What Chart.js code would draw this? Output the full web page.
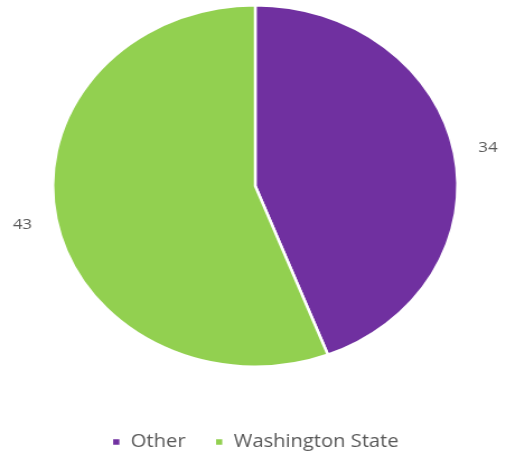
<!DOCTYPE html>
<html>
<head>
<meta charset="utf-8">
<script src="https://cdn.jsdelivr.net/npm/chart.js@4"></script>
<style>
  html, body { margin: 0; padding: 0; background: #fff; }
</style>
</head>
<body>
<!-- drawn narrower and stretched to 506px wide, like the reference picture -->
<canvas id="stateChart" width="452" height="455" style="width:506px;height:455px;display:block"></canvas>
<script>
const categories = ["Other", "Washington State"];
const counts = [34, 43];
const colors = ["#7030A0", "#92D050"];

// value labels just outside the pie
const outsideLabels = {
    id: "outsideLabels",
    afterDatasetsDraw(chart) {
        const ctx = chart.ctx;
        const meta = chart.getDatasetMeta(0);
        ctx.save();
        ctx.font = "15px 'Open Sans'";
        ctx.fillStyle = "#595959";
        ctx.textAlign = "center";
        ctx.textBaseline = "middle";
        meta.data.forEach((arc, i) => {
            const p = arc.getProps(["x", "y", "startAngle", "endAngle", "outerRadius"], true);
            const mid = (p.startAngle + p.endAngle) / 2;
            const r = p.outerRadius * 1.17;
            ctx.fillText(String(counts[i]), p.x + Math.cos(mid) * r, p.y + Math.sin(mid) * r);
        });
        ctx.restore();
    }
};

new Chart(document.getElementById("stateChart"), {
    type: "pie",
    data: {
        labels: categories,
        datasets: [{
            data: counts,
            backgroundColor: colors,
            borderColor: "#ffffff",
            borderWidth: 2.5
        }]
    },
    options: {
        responsive: false,
        animation: false,
        layout: { padding: { top: 4, bottom: -6, left: 4, right: 0 } },
        plugins: {
            tooltip: { enabled: false },
            legend: {
                position: "bottom",
                title: { display: true, text: "", font: { size: 10 }, padding: { top: 27, bottom: 0 } },
                labels: {
                    boxWidth: 8,
                    boxHeight: 8,
                    padding: 26,
                    color: "#595959",
                    font: { family: "'Open Sans'", size: 18 }
                }
            }
        }
    },
    plugins: [outsideLabels]
});
</script>
</body>
</html>
